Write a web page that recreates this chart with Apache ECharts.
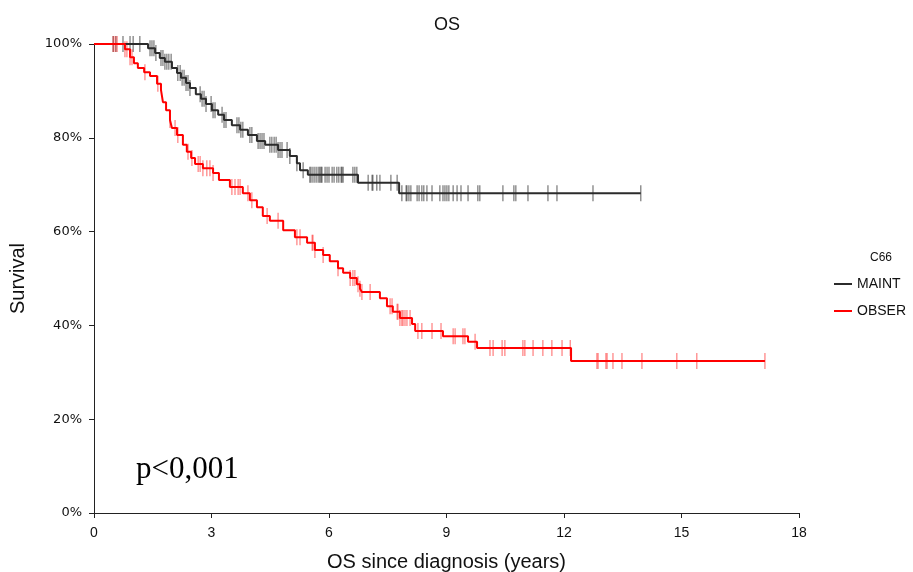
<!DOCTYPE html>
<html><head><meta charset="utf-8">
<script src="https://cdn.jsdelivr.net/npm/echarts@6/dist/echarts.min.js"></script>
<style>html,body{margin:0;padding:0;background:#fff}#c{width:913px;height:572px}</style>
</head><body><div id="c"></div>
<script>
// Kaplan-Meier step data (time in years, survival in %)
const maintTimes = [0,1.38,1.56,1.68,1.81,1.99,2.12,2.22,2.35,2.45,2.60,2.73,2.86,3.01,3.17,3.32,3.52,3.73,3.93,4.16,4.37,4.70,5.00,5.18,5.26,5.46,6.74,7.79,13.96];
const maintSurv  = [100,99.1,98.1,97.0,96.2,94.9,93.8,92.8,91.7,90.6,89.3,88.3,87.2,85.9,84.9,83.8,82.7,81.7,80.6,79.3,78.5,77.4,76.1,74.6,73.1,72.1,70.4,68.2,68.2];
const obserTimes = [0,0.79,0.92,1.02,1.12,1.28,1.43,1.61,1.71,1.76,1.84,1.94,1.99,2.12,2.27,2.37,2.48,2.58,2.78,3.04,3.19,3.47,3.80,3.98,4.16,4.31,4.49,4.83,5.13,5.44,5.64,5.85,6.02,6.23,6.36,6.54,6.71,6.79,6.84,7.30,7.48,7.63,7.81,8.12,8.20,8.91,9.55,9.78,12.18,17.13];
const obserSurv  = [100,98.9,97.2,95.9,94.9,94.0,93.2,91.5,90.2,87.6,85.9,83.8,82.1,80.6,78.5,77.0,75.7,74.4,73.5,72.5,71.0,69.5,68.2,66.7,65.2,63.3,62.3,60.3,58.8,57.6,56.1,55.0,53.7,52.2,51.2,50.1,48.8,47.8,47.1,45.8,44.1,42.9,41.6,40.3,38.8,37.7,36.5,35.2,32.4,32.4];
// Censoring times
const maintCensor = [0.49,0.56,0.74,0.92,1.00,1.17,1.43,1.48,1.53,1.58,1.71,1.76,1.81,1.86,1.91,1.97,2.14,2.20,2.25,2.30,2.35,2.40,2.45,2.71,2.76,2.81,2.86,2.99,3.04,3.09,3.27,3.32,3.37,3.65,3.70,3.75,3.80,3.98,4.03,4.19,4.24,4.29,4.34,4.49,4.54,4.60,4.65,4.70,4.75,4.80,4.93,5.00,5.18,5.34,5.51,5.54,5.59,5.64,5.69,5.74,5.77,5.80,5.82,5.90,5.95,6.00,6.08,6.13,6.20,6.25,6.31,6.33,6.36,6.61,6.66,6.71,7.00,7.10,7.12,7.22,7.30,7.58,7.74,7.86,7.97,7.99,8.04,8.09,8.25,8.30,8.37,8.42,8.50,8.63,8.83,8.91,8.96,9.01,9.06,9.17,9.27,9.37,9.55,9.80,9.85,10.44,10.72,10.77,11.08,11.59,11.82,12.74,13.96];
const obserCensor = [0.49,0.54,0.59,0.79,0.84,0.92,0.97,1.30,1.63,1.94,2.07,2.14,2.40,2.50,2.66,2.71,2.78,2.88,2.96,3.04,3.52,3.60,3.68,3.73,3.93,4.03,4.42,4.70,5.18,5.26,5.57,5.59,5.64,5.85,6.23,6.54,6.61,6.66,6.74,6.79,6.84,7.05,7.56,7.61,7.74,7.76,7.81,7.86,7.89,7.94,7.99,8.07,8.27,8.37,8.63,8.86,9.17,9.22,9.42,9.47,9.73,10.11,10.19,10.42,10.49,10.95,11.00,11.21,11.46,11.69,11.95,12.16,12.84,12.87,13.07,13.10,13.25,13.48,13.99,14.88,15.39,17.13];
const xTicks = [0,3,6,9,12,15,18];
const groupNames = ['MAINT','OBSER'];

function survAt(times, surv, t){
  let v = surv[0];
  for (let i=0;i<times.length;i++){ if (times[i] <= t) v = surv[i]; }
  return v;
}
function pairs(times, surv){ return times.map((t,i)=>[t, surv[i]]); }
function censorPts(c, times, surv){ return c.map(t=>[t, survAt(times, surv, t)]); }

const chart = echarts.init(document.getElementById('c'));
const font = 'Liberation Sans, Arial, sans-serif';
chart.setOption({
  animation:false,
  backgroundColor:'#fff',
  title:[
    {text:'OS', left:429, top:11, textStyle:{fontFamily:font, fontSize:18, fontWeight:'normal', color:'#111'}},
    {text:'C66', left:865, top:247, textStyle:{fontFamily:font, fontSize:12, fontWeight:'normal', color:'#111'}}
  ],
  legend:{
    data:groupNames, orient:'vertical', left:829, top:272, itemGap:13,
    icon:'rect', itemWidth:18, itemHeight:2,
    textStyle:{fontFamily:font, fontSize:14, color:'#111'}
  },
  grid:{left:94, right:114, top:44, bottom:59, outerBoundsMode:'none', containLabel:false},
  xAxis:{
    type:'value', min:xTicks[0], max:xTicks[xTicks.length-1], interval:3,
    name:'OS since diagnosis (years)', nameLocation:'middle', nameGap:39,
    nameTextStyle:{fontFamily:font, fontSize:20, color:'#111'},
    axisLine:{lineStyle:{color:'#222', width:1}},
    axisTick:{length:5, lineStyle:{color:'#222'}},
    axisLabel:{fontFamily:'Liberation Sans Narrow, Arial Narrow, '+font, fontSize:14, color:'#111', margin:13},
    splitLine:{show:false}
  },
  yAxis:{
    type:'value', min:0, max:100, interval:20,
    name:'Survival', nameLocation:'middle', nameGap:66,
    nameTextStyle:{fontFamily:font, fontSize:20, color:'#111'},
    axisLine:{show:true, lineStyle:{color:'#222', width:1}},
    axisTick:{show:true, length:5, lineStyle:{color:'#222'}},
    axisLabel:{formatter:'{value}%', fontFamily:'DejaVu Sans, '+font, fontSize:13, color:'#111', margin:12},
    splitLine:{show:false}
  },
  graphic:[
    {type:'text', left:136, top:454, style:{text:'p<0,001', font:'31px "Liberation Serif", "Times New Roman", serif', fill:'#000'}}
  ],
  series:[
    {name:'MAINT_c', type:'scatter', data:censorPts(maintCensor, maintTimes, maintSurv), symbol:'rect', symbolSize:[1.4,16], itemStyle:{color:'rgba(30,30,30,0.65)'}, z:2, silent:true},
    {name:'OBSER_c', type:'scatter', data:censorPts(obserCensor, obserTimes, obserSurv), symbol:'rect', symbolSize:[1.4,16], itemStyle:{color:'rgba(255,0,0,0.55)'}, z:2, silent:true},
    {name:groupNames[0], type:'line', step:'end', data:pairs(maintTimes, maintSurv), showSymbol:false, lineStyle:{color:'#2b2b2b', width:2}, itemStyle:{color:'#2b2b2b'}, z:3},
    {name:groupNames[1], type:'line', step:'end', data:pairs(obserTimes, obserSurv), showSymbol:false, lineStyle:{color:'#ff0000', width:2}, itemStyle:{color:'#ff0000'}, z:4}
  ]
});
</script>
</body></html>
